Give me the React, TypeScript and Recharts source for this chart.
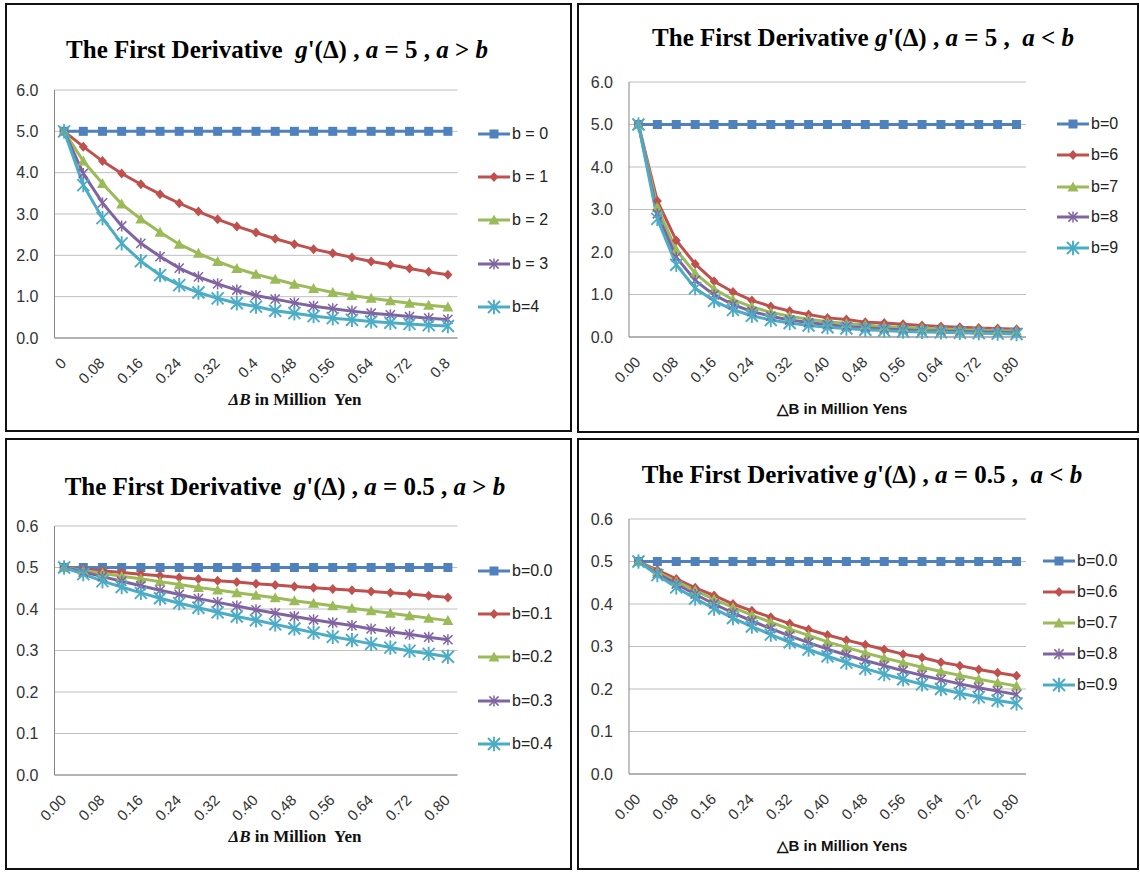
import React from 'react';
import { LineChart, Line, XAxis, YAxis, CartesianGrid } from 'recharts';

// x categories: ΔB in million yen
const deltaB = [0, 0.04, 0.08, 0.12, 0.16, 0.2, 0.24, 0.28, 0.32, 0.36, 0.4, 0.44, 0.48, 0.52, 0.56, 0.6, 0.64, 0.68, 0.72, 0.76, 0.8];

// a = 5, a > b
const a5Low_b0 = [5, 5, 5, 5, 5, 5, 5, 5, 5, 5, 5, 5, 5, 5, 5, 5, 5, 5, 5, 5, 5];
const a5Low_b1 = [5.0, 4.63, 4.28, 3.98, 3.72, 3.48, 3.26, 3.06, 2.87, 2.7, 2.55, 2.4, 2.27, 2.15, 2.05, 1.95, 1.85, 1.77, 1.68, 1.6, 1.53];
const a5Low_b2 = [5.0, 4.28, 3.74, 3.24, 2.88, 2.56, 2.27, 2.05, 1.85, 1.68, 1.54, 1.42, 1.3, 1.2, 1.1, 1.03, 0.96, 0.9, 0.84, 0.79, 0.75];
const a5Low_b3 = [5.0, 3.98, 3.27, 2.71, 2.29, 1.97, 1.69, 1.48, 1.31, 1.16, 1.03, 0.94, 0.85, 0.77, 0.71, 0.65, 0.6, 0.56, 0.52, 0.48, 0.45];
const a5Low_b4 = [5.0, 3.7, 2.9, 2.29, 1.86, 1.52, 1.28, 1.1, 0.96, 0.84, 0.76, 0.66, 0.6, 0.53, 0.48, 0.44, 0.4, 0.37, 0.34, 0.31, 0.29];

// a = 5, a < b
const a5High_b0 = [5, 5, 5, 5, 5, 5, 5, 5, 5, 5, 5, 5, 5, 5, 5, 5, 5, 5, 5, 5, 5];
const a5High_b6 = [5.0, 3.2, 2.27, 1.72, 1.31, 1.06, 0.86, 0.72, 0.61, 0.53, 0.45, 0.41, 0.35, 0.33, 0.3, 0.27, 0.25, 0.23, 0.21, 0.2, 0.18];
const a5High_b7 = [5.0, 3.05, 2.05, 1.5, 1.13, 0.88, 0.71, 0.58, 0.49, 0.42, 0.36, 0.32, 0.28, 0.25, 0.23, 0.21, 0.19, 0.17, 0.16, 0.15, 0.14];
const a5High_b8 = [5.0, 2.9, 1.88, 1.33, 0.99, 0.76, 0.6, 0.49, 0.4, 0.34, 0.29, 0.25, 0.22, 0.19, 0.17, 0.15, 0.14, 0.13, 0.12, 0.11, 0.1];
const a5High_b9 = [5.0, 2.78, 1.7, 1.15, 0.85, 0.64, 0.5, 0.4, 0.33, 0.27, 0.23, 0.2, 0.17, 0.15, 0.13, 0.12, 0.11, 0.1, 0.09, 0.08, 0.07];

// a = 0.5, a > b
const a05Low_b0 = [0.5, 0.5, 0.5, 0.5, 0.5, 0.5, 0.5, 0.5, 0.5, 0.5, 0.5, 0.5, 0.5, 0.5, 0.5, 0.5, 0.5, 0.5, 0.5, 0.5, 0.5];
const a05Low_b1 = [0.5, 0.496, 0.492, 0.488, 0.484, 0.48, 0.476, 0.472, 0.468, 0.465, 0.461, 0.458, 0.454, 0.451, 0.448, 0.445, 0.442, 0.439, 0.436, 0.432, 0.428];
const a05Low_b2 = [0.5, 0.493, 0.486, 0.479, 0.473, 0.466, 0.459, 0.452, 0.446, 0.439, 0.433, 0.427, 0.42, 0.414, 0.408, 0.402, 0.396, 0.39, 0.384, 0.378, 0.372];
const a05Low_b3 = [0.5, 0.489, 0.478, 0.467, 0.456, 0.445, 0.435, 0.425, 0.416, 0.407, 0.398, 0.39, 0.382, 0.374, 0.367, 0.36, 0.352, 0.345, 0.339, 0.332, 0.326];
const a05Low_b4 = [0.5, 0.484, 0.467, 0.453, 0.439, 0.426, 0.414, 0.403, 0.392, 0.382, 0.373, 0.363, 0.353, 0.343, 0.333, 0.325, 0.316, 0.307, 0.299, 0.292, 0.285];

// a = 0.5, a < b
const a05High_b0 = [0.5, 0.5, 0.5, 0.5, 0.5, 0.5, 0.5, 0.5, 0.5, 0.5, 0.5, 0.5, 0.5, 0.5, 0.5, 0.5, 0.5, 0.5, 0.5, 0.5, 0.5];
const a05High_b6 = [0.5, 0.48, 0.459, 0.438, 0.42, 0.4, 0.384, 0.369, 0.354, 0.34, 0.327, 0.315, 0.304, 0.293, 0.282, 0.274, 0.263, 0.255, 0.246, 0.238, 0.231];
const a05High_b7 = [0.5, 0.476, 0.453, 0.432, 0.411, 0.392, 0.374, 0.357, 0.341, 0.326, 0.311, 0.298, 0.285, 0.273, 0.262, 0.251, 0.241, 0.232, 0.223, 0.215, 0.207];
const a05High_b8 = [0.5, 0.472, 0.447, 0.423, 0.4, 0.379, 0.36, 0.342, 0.325, 0.309, 0.294, 0.28, 0.267, 0.255, 0.243, 0.232, 0.222, 0.212, 0.203, 0.195, 0.187];
const a05High_b9 = [0.5, 0.468, 0.439, 0.413, 0.389, 0.367, 0.347, 0.328, 0.31, 0.293, 0.277, 0.262, 0.248, 0.235, 0.223, 0.211, 0.2, 0.19, 0.181, 0.173, 0.166];

const ticksBig = [0, 1, 2, 3, 4, 5, 6];
const ticksSmall = [0, 0.1, 0.2, 0.3, 0.4, 0.5, 0.6];

const COLORS = ['#4F81BD', '#C0504D', '#9BBB59', '#8064A2', '#4BACC6'];
const SHAPES = ['square', 'diamond', 'triangle', 'asterisk', 'star'];

const SANS = '"Liberation Sans", Arial, sans-serif';
const SERIF = '"Liberation Serif", "Times New Roman", serif';

type Shape = string;

const Marker = ({ shape, color, cx, cy }: { shape: Shape; color: string; cx: number; cy: number }) => {
  if (cx == null || cy == null) return null;
  if (shape === 'square') return <rect x={cx - 4.5} y={cy - 4.5} width={9} height={9} fill={color} />;
  if (shape === 'diamond') return <polygon points={`${cx},${cy - 5} ${cx + 4.5},${cy} ${cx},${cy + 5} ${cx - 4.5},${cy}`} fill={color} />;
  if (shape === 'triangle') return <polygon points={`${cx},${cy - 5.5} ${cx + 5.5},${cy + 4.5} ${cx - 5.5},${cy + 4.5}`} fill={color} />;
  const r = shape === 'star' ? 6 : 4.6;
  const w = shape === 'star' ? 1.9 : 1.5;
  return (
    <g stroke={color} strokeWidth={w}>
      <line x1={cx - r} y1={cy - r} x2={cx + r} y2={cy + r} />
      <line x1={cx - r} y1={cy + r} x2={cx + r} y2={cy - r} />
      <line x1={cx} y1={cy - r * 1.2} x2={cx} y2={cy + r * 1.2} />
    </g>
  );
};

interface PanelProps {
  box: number[];
  plot: number[];
  yMax: number;
  yTicks: number[];
  xFmt: (v: number) => string;
  series: number[][];
  names: string[];
  legendX: number;
  legendY: number[];
  title: React.ReactNode;
  titleAt: number[];
  axisTitle: React.ReactNode;
  axisAt: number[];
  axisFont: string;
}

const XTick = (props: any) => {
  const { x, y, payload, fmt } = props;
  const px = x + 3;
  const py = y + 24;
  return (
    <text x={px} y={py} transform={`rotate(-45, ${px}, ${py})`} textAnchor="end" fontSize={15} fill="#333" fontFamily={SANS}>
      {fmt(payload.value)}
    </text>
  );
};

const Panel = ({ box, plot, yMax, yTicks, xFmt, series, names, legendX, legendY, title, titleAt, axisTitle, axisAt, axisFont }: PanelProps) => {
  const chartLeft = box[0] + 2;
  const chartTop = box[1] + 2;
  const width = box[2] - box[0] - 4;
  const height = box[3] - box[1] - 4;
  const yW = 40;
  const xH = 60;
  const margin = {
    left: plot[0] - chartLeft - yW,
    right: chartLeft + width - plot[2],
    top: plot[1] - chartTop,
    bottom: chartTop + height - plot[3] - xH,
  };
  const pad = (plot[2] - plot[0]) / (deltaB.length * 2);
  const data = deltaB.map((x, i) => {
    const row: any = { x };
    series.forEach((s, k) => { row[`s${k}`] = s[i]; });
    return row;
  });

  return (
    <>
      <div style={{ position: 'absolute', left: box[0], top: box[1], width: box[2] - box[0], height: box[3] - box[1], border: '2px solid #111', boxSizing: 'border-box', background: '#fff' }} />
      <div style={{ position: 'absolute', left: chartLeft, top: chartTop }}>
        <LineChart width={width} height={height} data={data} margin={margin}>
          <CartesianGrid vertical={false} stroke="#BFBFBF" />
          <XAxis dataKey="x" type="category" interval={1} height={xH} padding={{ left: pad, right: pad }}
            axisLine={{ stroke: '#868686' }} tickLine={false} tickSize={0}
            tick={<XTick fmt={xFmt} />} />
          <YAxis type="number" domain={[0, yMax]} ticks={yTicks} width={yW} interval={0}
            axisLine={{ stroke: '#868686' }} tickLine={false} tickSize={0} tickMargin={16}
            tickFormatter={(v: number) => v.toFixed(1)}
            tick={{ fontSize: 16, fill: '#333', fontFamily: SANS }} />
          {series.map((_, k) => (
            <Line key={k} type="linear" dataKey={`s${k}`} stroke={COLORS[k]} strokeWidth={3}
              dot={(p: any) => <Marker key={p.index} shape={SHAPES[k]} color={COLORS[k]} cx={p.cx} cy={p.cy} />}
              activeDot={false} isAnimationActive={false} />
          ))}
        </LineChart>
      </div>
      {names.map((n, k) => (
        <div key={n} style={{ position: 'absolute', left: legendX, top: legendY[k] - 10, height: 20, display: 'flex', alignItems: 'center', fontFamily: SANS, fontSize: 16, color: '#222', whiteSpace: 'pre' }}>
          <svg width={32} height={16} style={{ marginRight: 2 }}>
            <line x1={0} y1={8} x2={32} y2={8} stroke={COLORS[k]} strokeWidth={3} />
            <Marker shape={SHAPES[k]} color={COLORS[k]} cx={16} cy={8} />
          </svg>
          {n}
        </div>
      ))}
      <div style={{ position: 'absolute', left: titleAt[0] - 300, top: titleAt[1] - 15, width: 600, lineHeight: '30px', textAlign: 'center', fontFamily: SERIF, fontWeight: 'bold', fontSize: 25, whiteSpace: 'pre', color: '#000' }}>
        {title}
      </div>
      <div style={{ position: 'absolute', left: axisAt[0] - 150, top: axisAt[1] - 11, width: 300, lineHeight: '22px', textAlign: 'center', fontFamily: axisFont, fontWeight: 'bold', fontSize: axisFont === SERIF ? 17 : 15, whiteSpace: 'pre', color: '#111' }}>
        {axisTitle}
      </div>
    </>
  );
};

const fmtPlain = (v: number) => String(v);
const fmtFixed = (v: number) => v.toFixed(2);

export default function App() {
  return (
    <div style={{ position: 'absolute', left: 0, top: 0, width: 1140, height: 872, background: '#fff', overflow: 'hidden' }}>
      <Panel
        box={[5, 3, 572, 432]}
        plot={[54.5, 90, 457.5, 338]}
        yMax={6}
        yTicks={ticksBig}
        xFmt={fmtPlain}
        series={[a5Low_b0, a5Low_b1, a5Low_b2, a5Low_b3, a5Low_b4]}
        names={['b = 0', 'b = 1', 'b = 2', 'b = 3', 'b=4']}
        legendX={478}
        legendY={[134, 177, 220, 264, 307]}
        title={<>The First Derivative  <i>g</i>'(Δ) , <i>a</i> = 5 , <i>a</i> &gt; <i>b</i></>}
        titleAt={[277, 50]}
        axisTitle={<><i>ΔB</i> in Million  Yen</>}
        axisAt={[295, 400]}
        axisFont={SERIF}
      />
      <Panel
        box={[577, 3, 1139, 433]}
        plot={[629, 82, 1026, 337]}
        yMax={6}
        yTicks={ticksBig}
        xFmt={fmtFixed}
        series={[a5High_b0, a5High_b6, a5High_b7, a5High_b8, a5High_b9]}
        names={['b=0', 'b=6', 'b=7', 'b=8', 'b=9']}
        legendX={1057}
        legendY={[124, 155, 187, 217, 248]}
        title={<>The First Derivative <i>g</i>'(Δ) , <i>a</i> = 5 ,  <i>a</i> &lt; <i>b</i></>}
        titleAt={[863, 38]}
        axisTitle={<>△B in Million Yens</>}
        axisAt={[842, 409]}
        axisFont={SANS}
      />
      <Panel
        box={[5, 438, 572, 870]}
        plot={[54.5, 526, 457.5, 775]}
        yMax={0.6}
        yTicks={ticksSmall}
        xFmt={fmtFixed}
        series={[a05Low_b0, a05Low_b1, a05Low_b2, a05Low_b3, a05Low_b4]}
        names={['b=0.0', 'b=0.1', 'b=0.2', 'b=0.3', 'b=0.4']}
        legendX={478}
        legendY={[571, 614, 657, 701, 744]}
        title={<>The First Derivative  <i>g</i>'(Δ) , <i>a</i> = 0.5 , <i>a</i> &gt; <i>b</i></>}
        titleAt={[285, 487]}
        axisTitle={<><i>ΔB</i> in Million  Yen</>}
        axisAt={[295, 837]}
        axisFont={SERIF}
      />
      <Panel
        box={[577, 438, 1139, 870]}
        plot={[629, 519, 1026, 774]}
        yMax={0.6}
        yTicks={ticksSmall}
        xFmt={fmtFixed}
        series={[a05High_b0, a05High_b6, a05High_b7, a05High_b8, a05High_b9]}
        names={['b=0.0', 'b=0.6', 'b=0.7', 'b=0.8', 'b=0.9']}
        legendX={1043}
        legendY={[561, 592, 623, 654, 685]}
        title={<>The First Derivative <i>g</i>'(Δ) , <i>a</i> = 0.5 ,  <i>a</i> &lt; <i>b</i></>}
        titleAt={[862, 475]}
        axisTitle={<>△B in Million Yens</>}
        axisAt={[842, 846]}
        axisFont={SANS}
      />
    </div>
  );
}
